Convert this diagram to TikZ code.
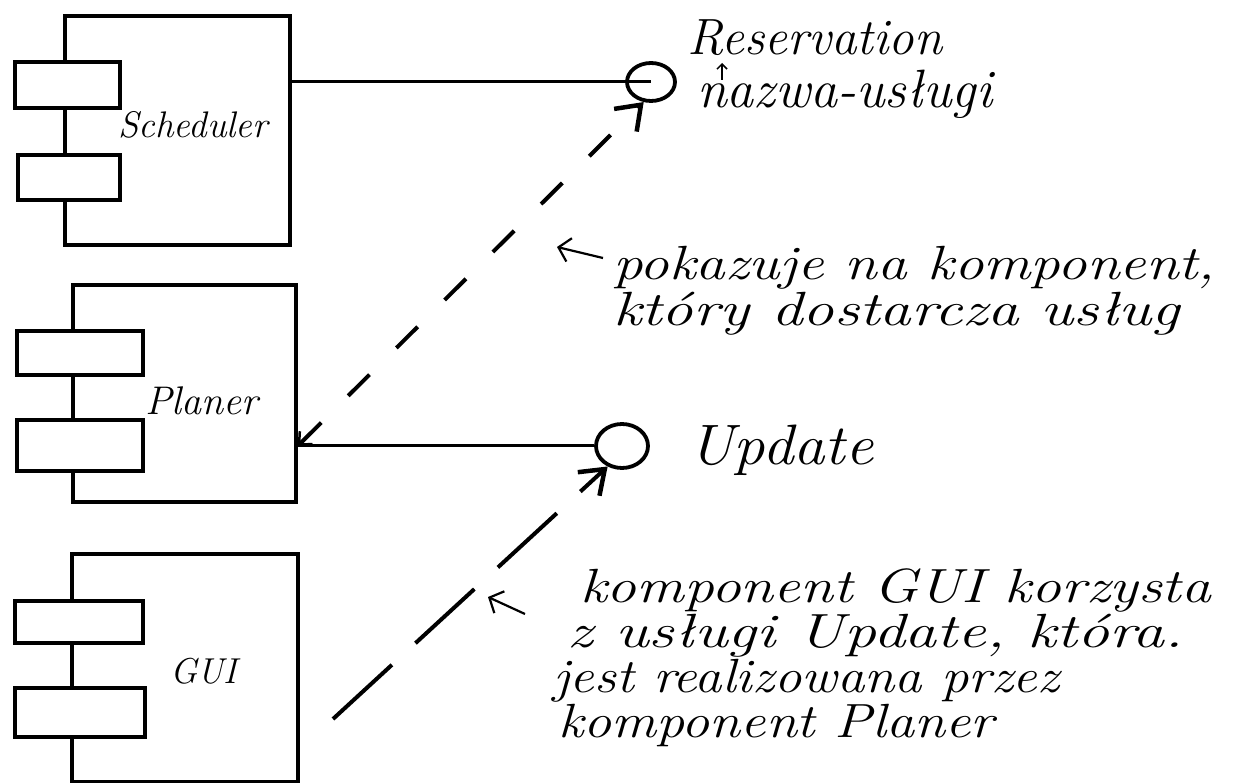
\documentclass[tikz,border=0pt]{standalone}
\usepackage{fontspec}
\usetikzlibrary{arrows.meta,shapes.geometric}
\tikzset{
  comp/.style={draw, line width=3.5pt, rectangle, inner sep=0pt},
  port/.style={draw, line width=3.2pt, fill=white, rectangle, inner sep=0pt},
  iface/.style={draw, line width=3.8pt, ellipse, inner sep=0pt},
  conn/.style={line width=3pt},
  dep/.style={line width=4pt},
  bigtip/.style={-{Straight Barb[length=22pt,width=32pt,line width=4.5pt]}},
  hand/.style={inner sep=0pt, anchor=base west},
  note/.style={line width=2.2pt, -{Straight Barb[length=11pt,width=24pt,line width=2.2pt]}},
}
\newcommand{\hf}[1]{\fontsize{#1}{#1}\selectfont\itshape}
\newcommand{\hwide}[2]{\scalebox{#1}[1]{#2}}
\begin{document}
\begin{tikzpicture}[x=1pt,y=-1pt]
\useasboundingbox (0,0) rectangle (1235,783);
% components
\node[comp, minimum width=225pt, minimum height=229pt] (sched) at (177.5,130.5) {};
\node[port, minimum width=105pt, minimum height=46pt] (s1) at (67.5,85) {};
\node[port, minimum width=102pt, minimum height=45pt] (s2) at (69,177.5) {};
\node[hand, font=\hf{37}] (schedlbl) at (118,138) {Scheduler};

\node[comp, minimum width=223pt, minimum height=217pt] (plan) at (184.5,393.5) {};
\node[port, minimum width=126pt, minimum height=44pt] (p1) at (80,353) {};
\node[port, minimum width=126pt, minimum height=51pt] (p2) at (80,445.5) {};
\node[hand, font=\hf{40}] (planlbl) at (145,415) {Planer};

\node[comp, minimum width=226pt, minimum height=228pt] (gui) at (185,668) {};
\node[port, minimum width=128pt, minimum height=42pt] (g1) at (79,622) {};
\node[port, minimum width=130pt, minimum height=49pt] (g2) at (80,712.5) {};
\node[hand, font=\hf{36}] (guilbl) at (170,683) {GUI};

% interfaces
\node[iface, minimum width=48pt, minimum height=38pt] (res) at (651,82) {};
\node[iface, minimum width=52pt, minimum height=44pt] (upd) at (622,446) {};
\node[hand, font=\hf{51}] (resname) at (687,55) {Reservation};
\node[hand, font=\hf{54}] (resname2) at (697,108) {nazwa-usługi};
\node[hand, font=\hf{57}] (updname) at (688,465) {\hwide{1.1}{Update}};
\coordinate (caretS) at (722,80);
\coordinate (caretT) at (722,63);
\draw[line width=1.5pt, -{Straight Barb[length=5pt,width=10pt,line width=1.5pt]}] (caretS) -- (caretT);

% realisations
\draw[conn] (sched.east |- res.center) -- (res.center);
\draw[conn] (plan.east |- upd.west) -- (upd.west);

% dependencies
\draw[dep, dash pattern=on 30pt off 38pt,
      {Straight Barb[length=10pt,width=18pt,line width=2.5pt]}-{Straight Barb[length=22pt,width=32pt,line width=4.5pt]}]
      (plan.east |- upd.west) -- (res.250);
\coordinate (gstart) at (333,719);
\draw[dep, bigtip, dash pattern=on 80pt off 32pt] (gstart) -- (upd.235);

% annotations
\node[hand, font=\hf{48}] (ann1a) at (613,280) {\hwide{1.23}{pokazuje na komponent,}};
\node[hand, font=\hf{48}] (ann1b) at (613,326) {\hwide{1.31}{który dostarcza usług}};
\coordinate (n1s) at (603,258);
\coordinate (n1t) at (557,247);
\draw[note] (n1s) -- (n1t);

\node[hand, font=\hf{48}] (ann2a) at (580,602) {\hwide{1.24}{komponent GUI korzysta}};
\node[hand, font=\hf{48}] (ann2b) at (567,647) {\hwide{1.33}{z usługi Update, która.}};
\node[hand, font=\hf{48}] (ann2c) at (553,692) {\hwide{1.14}{jest realizowana przez}};
\node[hand, font=\hf{48}] (ann2d) at (558,737) {\hwide{1.17}{komponent Planer}};
\coordinate (n2s) at (525,614);
\coordinate (n2t) at (488,597);
\draw[note] (n2s) -- (n2t);
\end{tikzpicture}
\end{document}
